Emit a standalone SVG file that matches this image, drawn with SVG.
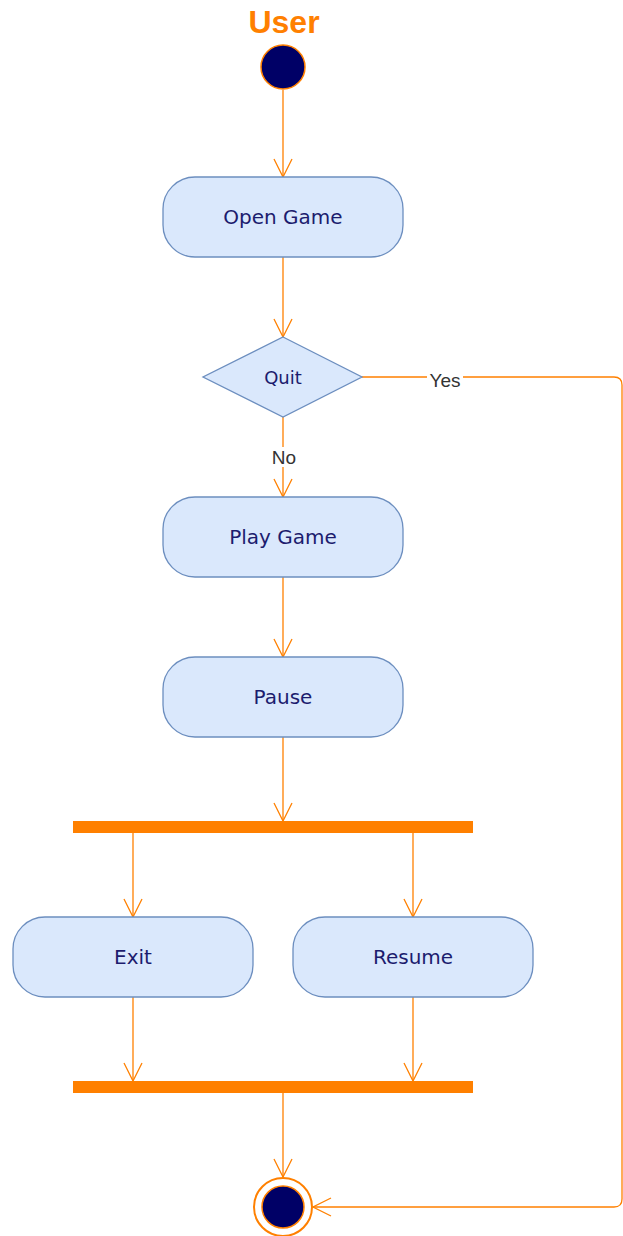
<svg xmlns="http://www.w3.org/2000/svg" width="623" height="1236" viewBox="0 0 623 1236">
<defs>
<style>
.node{fill:#dae8fc;stroke:#6c8ebf;stroke-width:1.3}
.lbl{font-family:"DejaVu Sans",Verdana,sans-serif;font-size:20px;fill:#1c1c6e;text-anchor:middle;dominant-baseline:central}
.edge{fill:none;stroke:#ff8000;stroke-width:1.3}
.elbl{font-family:"Liberation Sans",Arial,sans-serif;font-size:19px;fill:#333;text-anchor:middle;dominant-baseline:central}
.bar{fill:#ff8000}
</style>
<marker id="arr" viewBox="0 0 20 20" refX="19" refY="10" markerWidth="20" markerHeight="20" markerUnits="userSpaceOnUse" orient="auto">
<path d="M1,1 L19,10 L1,19" fill="none" stroke="#ff8000" stroke-width="1.3"/>
</marker>
</defs>
<rect width="623" height="1236" fill="#fff"/>
<text x="284" y="33" font-family="Liberation Sans,Arial,sans-serif" font-weight="bold" font-size="32" fill="#ff8000" text-anchor="middle">User</text>
<g id="connectors">
<path class="edge" d="M283,90 L283,177" marker-end="url(#arr)"/>
<path class="edge" d="M283,257 L283,337" marker-end="url(#arr)"/>
<path class="edge" d="M283,417 L283,497" marker-end="url(#arr)"/>
<path class="edge" d="M283,577 L283,657" marker-end="url(#arr)"/>
<path class="edge" d="M283,737 L283,821" marker-end="url(#arr)"/>
<path class="edge" d="M133,833 L133,917" marker-end="url(#arr)"/>
<path class="edge" d="M413,833 L413,917" marker-end="url(#arr)"/>
<path class="edge" d="M133,997 L133,1081" marker-end="url(#arr)"/>
<path class="edge" d="M413,997 L413,1081" marker-end="url(#arr)"/>
<path class="edge" d="M283,1093 L283,1177" marker-end="url(#arr)"/>
<path class="edge" d="M362,377 L614,377 Q622,377 622,385 L622,1199 Q622,1207 614,1207 L313,1207" marker-end="url(#arr)"/>
<rect x="427" y="368" width="36" height="20" fill="#fff"/>
<text class="elbl" x="445" y="380">Yes</text>
<rect x="270" y="447" width="28" height="20" fill="#fff"/>
<text class="elbl" x="284" y="457">No</text>
</g>
<g id="start"><circle cx="283" cy="67" r="22" fill="#000066" stroke="#ff8000" stroke-width="1.5"/></g>
<g id="open-game"><rect class="node" x="163" y="177" width="240" height="80" rx="32"/><text class="lbl" x="283" y="217">Open Game</text></g>
<g id="quit"><polygon class="node" points="283,337 362,377 283,417 203,377"/><text class="lbl" x="283" y="377" style="font-size:18px">Quit</text></g>
<g id="play-game"><rect class="node" x="163" y="497" width="240" height="80" rx="32"/><text class="lbl" x="283" y="537">Play Game</text></g>
<g id="pause"><rect class="node" x="163" y="657" width="240" height="80" rx="32"/><text class="lbl" x="283" y="697">Pause</text></g>
<g id="fork"><rect class="bar" x="73" y="821" width="400" height="12"/></g>
<g id="exit"><rect class="node" x="13" y="917" width="240" height="80" rx="32"/><text class="lbl" x="133" y="957">Exit</text></g>
<g id="resume"><rect class="node" x="293" y="917" width="240" height="80" rx="32"/><text class="lbl" x="413" y="957">Resume</text></g>
<g id="join"><rect class="bar" x="73" y="1081" width="400" height="12"/></g>
<g id="end"><circle cx="283" cy="1207" r="29" fill="#fff" stroke="#ff8000" stroke-width="2"/><circle cx="283" cy="1207" r="21" fill="#000066" stroke="#ff8000" stroke-width="1.5"/></g>
</svg>
